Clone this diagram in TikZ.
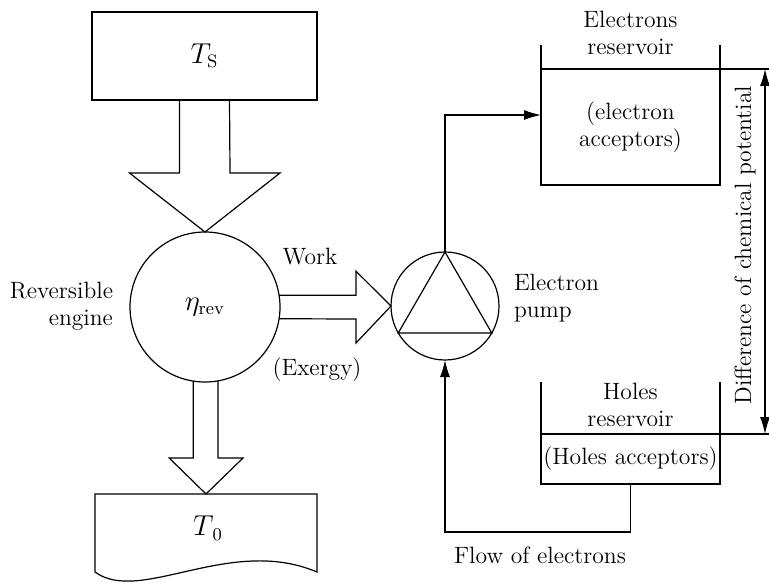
\documentclass[tikz,border=0pt]{standalone}
\usetikzlibrary{arrows.meta}

\begin{document}
\begin{tikzpicture}[x=0.5pt,y=-0.5pt,line width=0.6pt,
    font=\fontsize{11.8}{13.5}\selectfont,
    every node/.style={inner sep=0pt,outer sep=0pt},
    sym/.style={font=\fontsize{13.5}{15}\selectfont},
    >={Latex[length=8.5pt,width=5pt]}]
    \useasboundingbox (0,0) rectangle (769,583);
    \node[draw,sym,minimum width=112.5pt,minimum height=44pt] (hot) at (204.5,56) {$T_{\mathrm{S}}$};
    \node[draw,sym,circle,minimum size=75pt] (engine) at (205,307) {$\eta_{\mathrm{rev}}$};
    \node[draw,circle,minimum size=54pt] (pump) at (445,306) {};
    \draw (pump.north) -- (pump.210) -- (pump.330) -- cycle;
    \coordinate (cold) at (206,494);
    \draw (95,494) -- (317,494) -- (317,572) .. controls (230,535) and (140,605) .. (95,572) -- cycle;
    \node[sym] (tzero) at (208,528) {$T_{\,0}$};
    \draw ([xshift=-12.5pt]hot.south) -- ++(0,73) -- ++(-50,0) -- (engine.north) -- ++(75,-59) -- ++(-50,0) -- ([xshift=12.5pt]hot.south);
    \draw (engine.-99.6) -- ++(0,77) -- ++(-24,0) -- (cold) -- ++(37,-36) -- ++(-25,0) -- (engine.-80.4);
    \draw (engine.9.6) -- ++(77,0) -- ++(0,-24) -- (pump.west) -- ++(-35,37) -- ++(0,-24) -- (engine.-9.6);
    \node (work) at (310,257) {Work};
    \node (exergy) at (317,370) {(Exergy)};
    \node[align=right,anchor=east] (rev) at (113,306) {Reversible\\engine};
    \node[align=left,anchor=west] (plab) at (514,298) {Electron\\pump};
    \node[draw,minimum width=89.5pt,minimum height=58pt,align=center] (eres) at (630.5,127) {(electron\\acceptors)};
    \draw (eres.north west) -- ++(0,-24) (eres.north east) -- ++(0,-24) (eres.north east) -- ++(49,0);
    \node[align=center] (elab) at (630.5,33) {Electrons\\reservoir};
    \node[draw,minimum width=89.5pt,minimum height=25pt] (hres) at (630.5,459) {(Holes acceptors)};
    \draw (hres.north west) -- ++(0,-52) (hres.north east) -- ++(0,-52) (hres.north east) -- ++(49,0);
    \node[align=center] (hlab) at (630.5,405) {Holes\\reservoir};
    \coordinate (ein) at (541,115);
    \draw [->] (pump.north) |- (ein);
    \draw [->] (hres.south) -- ++(0,48) -| (pump.south);
    \node (flow) at (540,555) {Flow of electrons};
    \coordinate (dtop) at (765,69);
    \coordinate (dbot) at (765,434);
    \draw [<->] (dtop) -- (dbot);
    \node[rotate=90] (dlab) at (745,245) {Difference of chemical potential};
\end{tikzpicture}
\end{document}
